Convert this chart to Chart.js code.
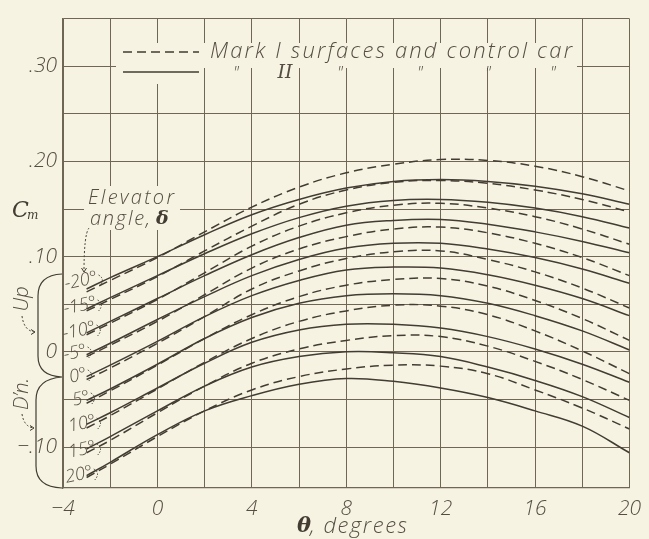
<!DOCTYPE html>
<html>
<head>
<meta charset="utf-8">
<script src="https://cdn.jsdelivr.net/npm/chart.js@4.4.1/dist/chart.umd.min.js"></script>
<style>
  html, body { margin: 0; padding: 0; background: #f6f3e3; }
  #wrap { width: 649px; height: 539px; }
</style>
</head>
<body>
<div id="wrap"><canvas id="cmChart" width="649" height="539"></canvas></div>
<script>
// Angle of attack, theta (degrees)
const thetaDeg = [-3, -2, 0, 2, 4, 6, 8, 10, 12, 14, 16, 18, 20];
const elevatorAngles = [-20, -15, -10, -5, 0, 5, 10, 15, 20];

// Cm, Mark I surfaces and control car (dashed)
const markI_m20 = [0.063, 0.075, 0.099, 0.126, 0.152, 0.173, 0.188, 0.197, 0.202, 0.201, 0.195, 0.184, 0.169];
const markI_m15 = [0.043, 0.055, 0.079, 0.106, 0.132, 0.155, 0.170, 0.178, 0.180, 0.177, 0.170, 0.160, 0.147];
const markI_m10 = [0.018, 0.030, 0.055, 0.083, 0.111, 0.132, 0.146, 0.154, 0.156, 0.151, 0.142, 0.129, 0.113];
const markI_m5  = [-0.005, 0.007, 0.032, 0.060, 0.088, 0.108, 0.121, 0.129, 0.131, 0.125, 0.114, 0.099, 0.080];
const markI_0   = [-0.029, -0.017, 0.009, 0.037, 0.066, 0.085, 0.098, 0.105, 0.106, 0.097, 0.084, 0.067, 0.046];
const markI_p5  = [-0.054, -0.041, -0.014, 0.014, 0.039, 0.058, 0.070, 0.076, 0.077, 0.069, 0.054, 0.035, 0.012];
const markI_p10 = [-0.080, -0.067, -0.039, -0.011, 0.014, 0.032, 0.043, 0.049, 0.048, 0.039, 0.022, 0.001, -0.023];
const markI_p15 = [-0.106, -0.093, -0.064, -0.036, -0.012, 0.003, 0.012, 0.017, 0.016, 0.006, -0.010, -0.029, -0.051];
const markI_p20 = [-0.132, -0.118, -0.089, -0.062, -0.040, -0.026, -0.018, -0.014, -0.015, -0.023, -0.040, -0.059, -0.081];

// Cm, Mark II (solid)
const markII_m20 = [0.066, 0.078, 0.100, 0.123, 0.144, 0.160, 0.172, 0.179, 0.181, 0.179, 0.174, 0.166, 0.155];
const markII_m15 = [0.045, 0.057, 0.080, 0.103, 0.124, 0.141, 0.153, 0.159, 0.160, 0.157, 0.151, 0.142, 0.130];
const markII_m10 = [0.020, 0.032, 0.056, 0.080, 0.102, 0.120, 0.133, 0.138, 0.139, 0.134, 0.126, 0.116, 0.104];
const markII_m5  = [-0.003, 0.009, 0.034, 0.058, 0.080, 0.097, 0.109, 0.114, 0.114, 0.108, 0.099, 0.087, 0.072];
const markII_0   = [-0.026, -0.014, 0.011, 0.037, 0.059, 0.075, 0.086, 0.089, 0.088, 0.081, 0.070, 0.056, 0.038];
const markII_p5  = [-0.051, -0.039, -0.013, 0.014, 0.036, 0.051, 0.059, 0.061, 0.059, 0.051, 0.038, 0.022, 0.002];
const markII_p10 = [-0.076, -0.064, -0.038, -0.012, 0.010, 0.023, 0.029, 0.029, 0.025, 0.016, 0.003, -0.013, -0.032];
const markII_p15 = [-0.102, -0.089, -0.062, -0.036, -0.016, -0.005, 0.000, -0.001, -0.005, -0.016, -0.030, -0.047, -0.069];
const markII_p20 = [-0.130, -0.116, -0.087, -0.062, -0.046, -0.034, -0.028, -0.031, -0.038, -0.048, -0.062, -0.078, -0.106];

const markISeries = [markI_m20, markI_m15, markI_m10, markI_m5, markI_0, markI_p5, markI_p10, markI_p15, markI_p20];
const markIISeries = [markII_m20, markII_m15, markII_m10, markII_m5, markII_0, markII_p5, markII_p10, markII_p15, markII_p20];

// Grid and tick labels
const xGridValues = [-4, -2, 0, 2, 4, 6, 8, 10, 12, 14, 16, 18, 20];
const xLabelValues = [-4, 0, 4, 8, 12, 16, 20];
const xLabels = ['\u22124', '0', '4', '8', '12', '16', '20'];
const yGridValues = [-0.10, -0.05, 0, 0.05, 0.10, 0.15, 0.20, 0.25, 0.30, 0.35];
const yLabelValues = [0.30, 0.20, 0.10, 0, -0.10];
const yLabels = ['.30', '.20', '.10', '0', '\u2212.10'];

const ink = '#433c32';
const textInk = '#554d42';
const gridInk = '#6f6656';
const paper = '#f6f3e3';
const letterFont = '"Open Sans", "DejaVu Sans", sans-serif';

function labelFor(v, values, labels) {
    const i = values.findIndex(t => Math.abs(t - v) < 1e-6);
    return i >= 0 ? labels[i] : '';
}

// Build datasets
const datasets = [];
elevatorAngles.forEach((d, i) => {
    datasets.push({
        label: 'Mark I, ' + d + '\u00b0',
        data: thetaDeg.map((t, k) => ({ x: t, y: markISeries[i][k] })),
        borderColor: ink,
        borderWidth: 1.5,
        borderDash: [9, 5],
        fill: false
    });
    datasets.push({
        label: 'Mark II, ' + d + '\u00b0',
        data: thetaDeg.map((t, k) => ({ x: t, y: markIISeries[i][k] })),
        borderColor: ink,
        borderWidth: 1.5,
        fill: false
    });
});

// Paper background
const paperPlugin = {
    id: 'paper',
    beforeDraw(chart) {
        const ctx = chart.ctx;
        ctx.save();
        ctx.fillStyle = paper;
        ctx.fillRect(0, 0, chart.width, chart.height);
        ctx.restore();
    }
};

function spacedText(ctx, text, x, y, width) {
    ctx.letterSpacing = '0px';
    const w = ctx.measureText(text).width;
    const sp = (width - w) / Math.max(1, text.length - 1);
    ctx.letterSpacing = sp + 'px';
    ctx.fillText(text, x, y);
    ctx.letterSpacing = '0px';
}

function dottedArrow(ctx, pts, headDir) {
    ctx.save();
    ctx.setLineDash([2, 2]);
    ctx.lineWidth = 1;
    ctx.beginPath();
    ctx.moveTo(pts[0], pts[1]);
    ctx.quadraticCurveTo(pts[2], pts[3], pts[4], pts[5]);
    ctx.stroke();
    ctx.setLineDash([]);
    const [ex, ey] = [pts[4], pts[5]];
    ctx.beginPath();
    if (headDir === 'down') {
        ctx.moveTo(ex - 2.5, ey - 4); ctx.lineTo(ex, ey); ctx.lineTo(ex + 2.5, ey - 4);
    } else {
        ctx.moveTo(ex - 4, ey - 2.5); ctx.lineTo(ex, ey); ctx.lineTo(ex - 4, ey + 2.5);
    }
    ctx.stroke();
    ctx.restore();
}

// Legend, labels, braces
const annotationPlugin = {
    id: 'annotations',
    afterDraw(chart) {
        const ctx = chart.ctx;
        ctx.save();
        ctx.fillStyle = paper;
        ctx.fillRect(116, 43, 461, 25);
        ctx.fillRect(153, 43, 10, 41);
        ctx.fillRect(84, 186, 96, 44);

        ctx.strokeStyle = ink;
        ctx.fillStyle = textInk;
        ctx.textBaseline = 'middle';

        // legend rows
        ctx.lineWidth = 1.5;
        ctx.setLineDash([9, 5]);
        ctx.beginPath(); ctx.moveTo(123, 52); ctx.lineTo(199, 52); ctx.stroke();
        ctx.setLineDash([]);
        ctx.beginPath(); ctx.moveTo(123, 72); ctx.lineTo(199, 72); ctx.stroke();

        ctx.font = 'italic 300 22px ' + letterFont;
        ctx.textAlign = 'left';
        spacedText(ctx, 'Mark I surfaces and control car', 210, 52, 362);

        ctx.textAlign = 'center';
        ctx.font = 'italic 300 17px ' + letterFont;
        [236, 340, 420, 488, 553].forEach(x => ctx.fillText('"', x, 73));
        ctx.font = 'italic 19px "DejaVu Serif", serif';
        ctx.fillText('II', 285, 73);

        // y axis title
        ctx.fillStyle = ink;
        ctx.font = 'italic 22px "DejaVu Serif", serif';
        ctx.textAlign = 'left';
        ctx.fillText('C', 12, 211);
        ctx.font = 'italic 12px "DejaVu Serif", serif';
        ctx.fillText('m', 27, 216);
        ctx.fillStyle = textInk;

        // elevator angle label
        ctx.font = 'italic 300 20px ' + letterFont;
        spacedText(ctx, 'Elevator', 88, 198, 86);
        spacedText(ctx, 'angle,', 90, 219, 60);
        ctx.font = 'bold italic 19px "DejaVu Serif", serif';
        ctx.fillStyle = ink;
        ctx.fillText('\u03b4', 156, 219);
        ctx.fillStyle = textInk;
        dottedArrow(ctx, [89, 228, 84, 234, 84, 272], 'down');

        // x axis title
        ctx.fillStyle = ink;
        ctx.font = 'bold italic 21px "DejaVu Serif", serif';
        ctx.fillText('\u03b8', 297, 527);
        ctx.fillStyle = textInk;
        ctx.font = 'italic 300 22px ' + letterFont;
        spacedText(ctx, ', degrees', 310, 527, 97);

        // braces
        ctx.lineWidth = 1.2;
        ctx.beginPath();
        ctx.moveTo(62, 274);
        ctx.quadraticCurveTo(38, 275, 38, 296);
        ctx.lineTo(38, 356);
        ctx.quadraticCurveTo(38, 376, 62, 377);
        ctx.quadraticCurveTo(36, 379, 36, 400);
        ctx.lineTo(36, 466);
        ctx.quadraticCurveTo(36, 487, 62, 488);
        ctx.stroke();

        // Up / D'n.
        ctx.font = 'italic 300 20px ' + letterFont;
        ctx.textAlign = 'center';
        ctx.save(); ctx.translate(22, 299); ctx.rotate(-Math.PI / 2); ctx.fillText('Up', 0, 0); ctx.restore();
        ctx.save(); ctx.translate(22, 394); ctx.rotate(-Math.PI / 2); ctx.fillText('D\u2019n.', 0, 0); ctx.restore();
        dottedArrow(ctx, [22, 316, 24, 331, 35, 332], 'right');
        dottedArrow(ctx, [22, 414, 24, 427, 34, 428], 'right');

        // elevator angle tags at curve starts
        const tags = [['-20\u00b0', 81, 281], ['-15\u00b0', 80, 306], ['-10\u00b0', 79, 331], ['-5\u00b0', 75, 353],
            ['0\u00b0', 78, 376], ['5\u00b0', 81, 399], ['10\u00b0', 82, 424], ['15\u00b0', 82, 450], ['20\u00b0', 79, 475]];
        ctx.font = 'italic 300 18px ' + letterFont;
        tags.forEach(([t, x, y]) => {
            ctx.save();
            ctx.translate(x, y);
            ctx.rotate(-0.2);
            ctx.fillText(t, 0, 0);
            ctx.restore();
            ctx.save();
            ctx.setLineDash([1.5, 1.5]);
            ctx.lineWidth = 1;
            ctx.beginPath();
            const w = ctx.measureText(t).width / 2;
            ctx.moveTo(x + w + 1, y - 6);
            ctx.quadraticCurveTo(x + w + 8, y - 2, x + w + 2, y + 5);
            ctx.stroke();
            ctx.restore();
        });
        ctx.restore();
    }
};

const tickFont = { family: letterFont, size: 21, style: 'italic', weight: '300' };

const chart = new Chart(document.getElementById('cmChart'), {
    type: 'line',
    data: { datasets: datasets },
    options: {
        responsive: false,
        animation: false,
        devicePixelRatio: 1,
        layout: { padding: { top: 14, right: 12, left: 0, bottom: 0 } },
        plugins: { legend: { display: false }, tooltip: { enabled: false } },
        elements: { point: { radius: 0 }, line: { tension: 0.4 } },
        scales: {
            x: {
                type: 'linear',
                min: -4,
                max: 20,
                afterBuildTicks: s => { s.ticks = xGridValues.map(v => ({ value: v })); },
                afterFit: s => { s.height = 51; },
                ticks: {
                    autoSkip: false,
                    maxRotation: 0,
                    padding: 8,
                    color: textInk,
                    font: tickFont,
                    callback: v => labelFor(v, xLabelValues, xLabels)
                },
                grid: { color: gridInk, lineWidth: 1, drawTicks: false },
                border: { color: gridInk, width: 1.3 }
            },
            y: {
                type: 'linear',
                min: -0.143,
                max: 0.35,
                afterBuildTicks: s => { s.ticks = yGridValues.map(v => ({ value: v })); },
                afterFit: s => { s.width = 63; },
                ticks: {
                    autoSkip: false,
                    padding: 6,
                    color: textInk,
                    font: tickFont,
                    callback: v => labelFor(v, yLabelValues, yLabels)
                },
                grid: { color: gridInk, lineWidth: 1, drawTicks: false },
                border: { color: gridInk, width: 1.3 }
            }
        }
    },
    plugins: [paperPlugin, annotationPlugin]
});
</script>
</body>
</html>
